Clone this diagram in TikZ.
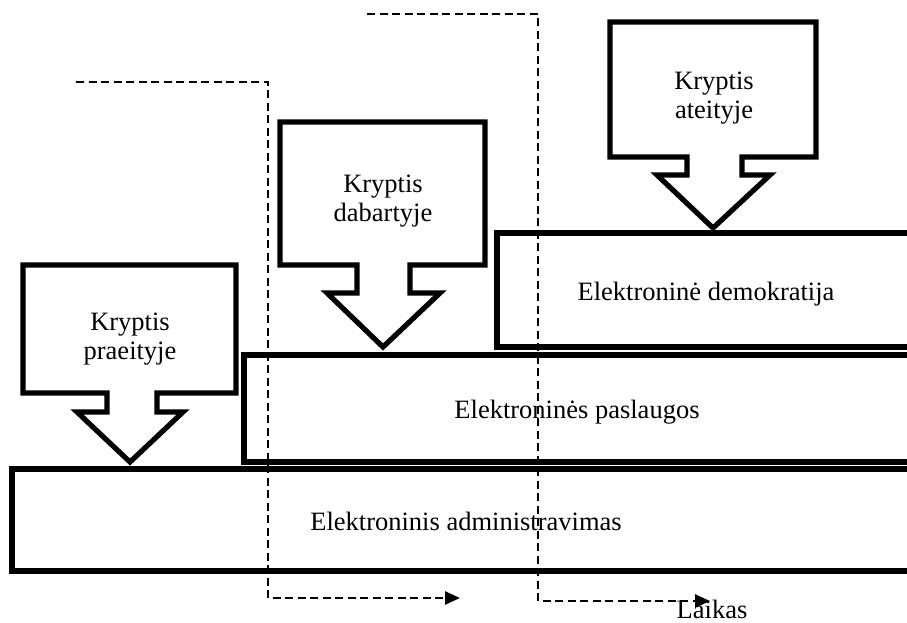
\documentclass[tikz,border=0pt]{standalone}
\usepackage{fontspec}
\setmainfont{Liberation Serif}
\usetikzlibrary{arrows.meta}
\begin{document}
\begin{tikzpicture}[x=1pt,y=-1pt,
  band/.style={line width=5.2pt, line join=miter},
  callout/.style={line width=5.2pt, line join=miter},
  lbl/.style={font=\fontsize{26.5}{29}\selectfont, inner sep=0pt, align=center},
  timeline/.style={line width=2.6pt, dash pattern=on 8pt off 4.5pt,
    -{Triangle[length=15pt,width=13pt]}},
]
\useasboundingbox (0,0) rectangle (907,622);

% stacked bands, open towards the right edge
\draw[band] (920,233) -- (497,233) -- (497,347) -- (920,347);
\draw[band] (920,355) -- (244,355) -- (244,462) -- (920,462);
\draw[band] (920,469) -- (12,469) -- (12,571) -- (920,571);

\node[lbl, anchor=base] (demo) at (706,300) {Elektroninė demokratija};
\node[lbl, anchor=base] (pasl) at (577,418) {Elektroninės paslaugos};
\node[lbl, anchor=base] (admin) at (466,530) {Elektroninis administravimas};

% callout boxes with a downward block arrow
\draw[callout] (23,265) -- (236,265) -- (236,393) -- (157,393) -- (157,412)
  -- (183,412) -- (130,462) -- (77,412) -- (107,412) -- (107,393)
  -- (23,393) -- cycle;
\draw[callout] (280,122) -- (485,122) -- (485,265) -- (410,265) -- (410,293)
  -- (440,293) -- (383,347) -- (327,293) -- (357,293) -- (357,265)
  -- (280,265) -- cycle;
\draw[callout] (610,22) -- (816,22) -- (816,157) -- (742,157) -- (742,175)
  -- (770,175) -- (713,228) -- (657,175) -- (687,175) -- (687,157)
  -- (610,157) -- cycle;

\node[lbl] (past) at (130,339) {Kryptis\\praeityje};
\node[lbl] (now) at (383,201) {Kryptis\\dabartyje};
\node[lbl] (future) at (714,98) {Kryptis\\ateityje};

% time lines
\coordinate (t1s) at (76,82);
\coordinate (t1c) at (268,82);
\coordinate (t1d) at (268,598);
\coordinate (t1e) at (460,598);
\coordinate (t2s) at (367,14);
\coordinate (t2c) at (538,14);
\coordinate (t2d) at (538,601);
\coordinate (t2e) at (710,601);
\draw[timeline] (t1s) -- (t1c) -- (t1d) -- (t1e);
\draw[timeline] (t2s) -- (t2c) -- (t2d) -- (t2e);

\node[lbl, anchor=base] (time) at (712,618) {Laikas};
\end{tikzpicture}
\end{document}
